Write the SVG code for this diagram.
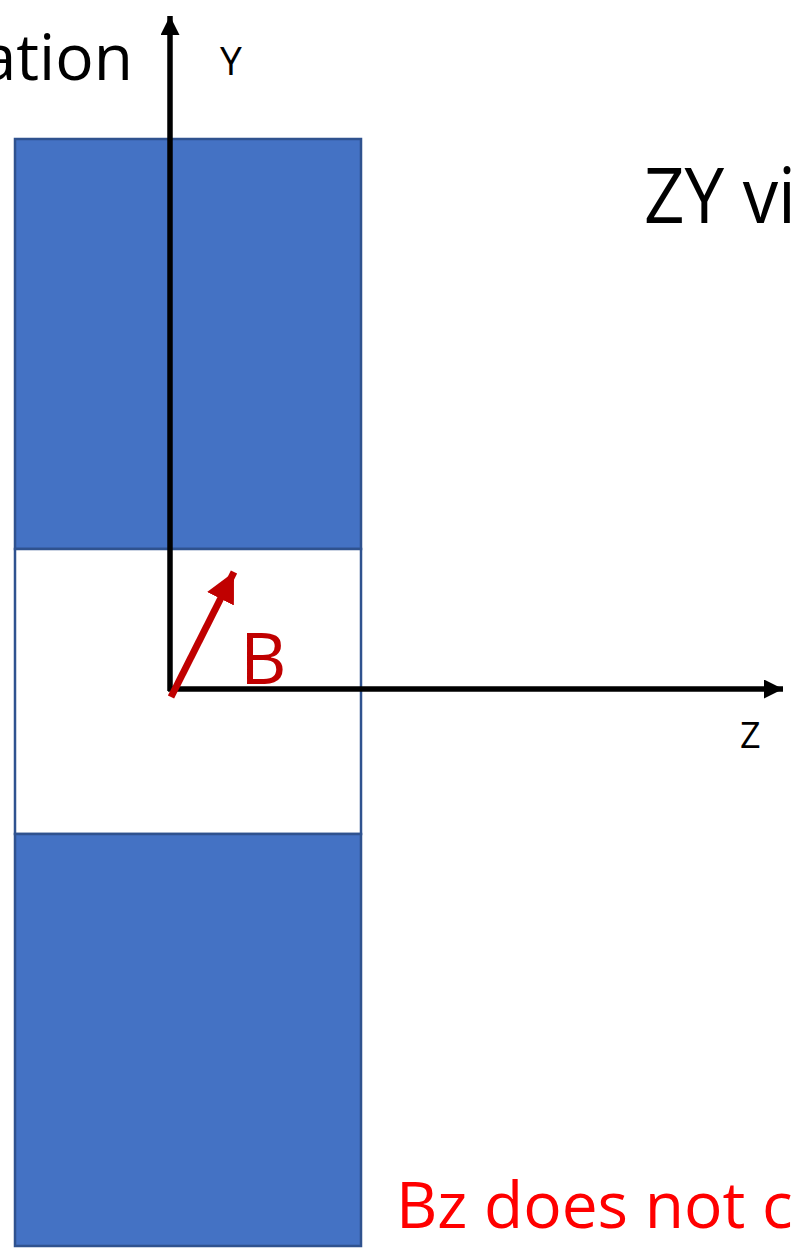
<svg xmlns="http://www.w3.org/2000/svg" width="795" height="1254" viewBox="0 0 795 1254">
  <style>
    .blk { fill: #4472C4; stroke: #2F528F; stroke-width: 2.5; }
    .gap { fill: #FFFFFF; stroke: #2F528F; stroke-width: 2.5; }
    .axis { stroke: #000000; stroke-width: 5.5; fill: none; }
    .bvec { stroke: #C00000; stroke-width: 7; fill: none; }
    text { font-family: "Open Sans", "Liberation Sans", sans-serif; }
  </style>
  <defs>
    <marker id="ah" markerUnits="userSpaceOnUse" markerWidth="22" markerHeight="20" refX="19" refY="9.5" orient="auto">
      <path d="M0,0 L19,9.5 L0,19 Z" fill="#000000"/>
    </marker>
    <marker id="ahr" markerUnits="userSpaceOnUse" markerWidth="34" markerHeight="32" refX="30" refY="15" orient="auto">
      <path d="M0,0 L30,15 L0,30 Z" fill="#C00000"/>
    </marker>
  </defs>
  <rect width="795" height="1254" fill="#FFFFFF"/>

  <g id="magnet-top"><rect class="blk" x="15" y="139" width="346" height="410"/></g>
  <g id="gap"><rect class="gap" x="15" y="549" width="346" height="285"/></g>
  <g id="magnet-bottom"><rect class="blk" x="15" y="834" width="346" height="412"/></g>

  <g id="connectors">
    <line class="axis" x1="170" y1="691" x2="170" y2="16" marker-end="url(#ah)"/>
    <line class="axis" x1="168" y1="689" x2="783" y2="689" marker-end="url(#ah)"/>
    <line class="bvec" x1="171" y1="697" x2="234" y2="572" marker-end="url(#ahr)"/>
  </g>

  <g id="labels">
    <text x="133" y="80" font-size="64" fill="#000000" text-anchor="end">ation</text>
    <text x="220" y="75" font-size="39" fill="#000000">Y</text>
    <text x="644" y="223" font-size="77" fill="#000000" textLength="152" lengthAdjust="spacingAndGlyphs">ZY vi</text>
    <text x="740" y="748" font-size="36" fill="#000000">Z</text>
    <text x="240" y="684" font-size="72" fill="#C00000">B</text>
    <text x="396" y="1228" font-size="64" fill="#FF0000">Bz does not c</text>
  </g>
</svg>
